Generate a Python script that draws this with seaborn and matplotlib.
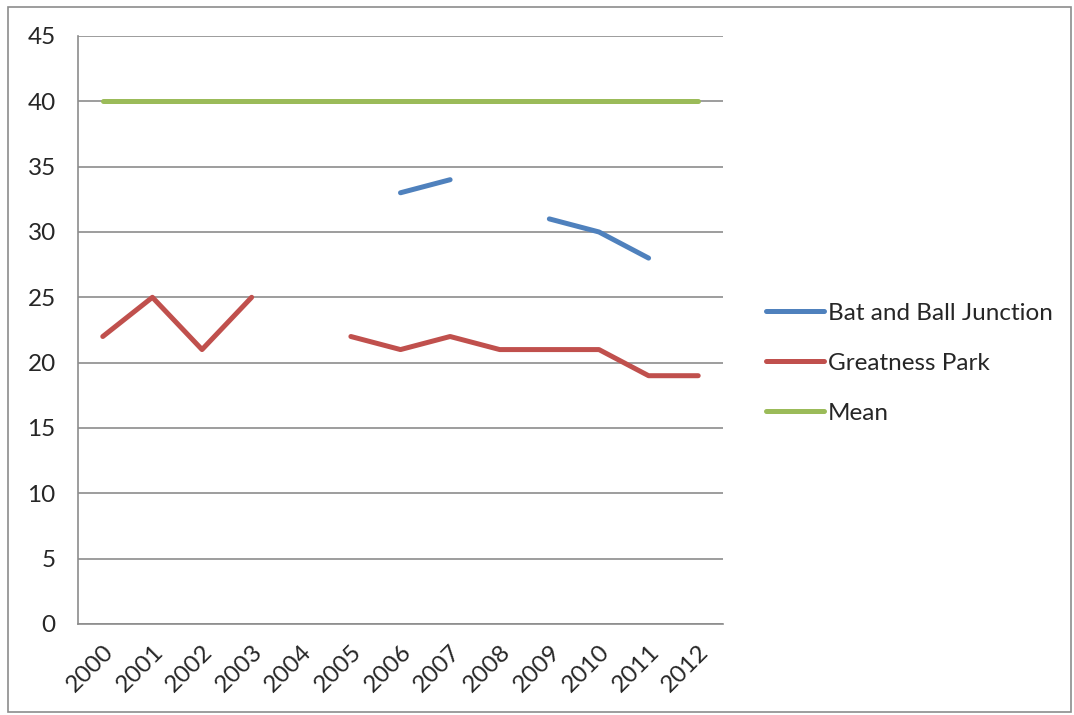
import matplotlib
matplotlib.use("Agg")
import matplotlib.pyplot as plt
import numpy as np
import pandas as pd
import seaborn as sns
from matplotlib.lines import Line2D
from matplotlib.patches import Rectangle

years = [str(y) for y in range(2000, 2013)]
bat_and_ball = [np.nan, np.nan, np.nan, np.nan, np.nan, np.nan, 33, 34, np.nan, 31, 30, 28, np.nan]
greatness_park = [22, 25, 21, 25, np.nan, 22, 21, 22, 21, 21, 21, 19, 19]
mean_values = [40] * 13

series = {
    "Bat and Ball Junction": bat_and_ball,
    "Greatness Park": greatness_park,
    "Mean": mean_values,
}
colors = {"Bat and Ball Junction": "#4F81BD", "Greatness Park": "#C0504D", "Mean": "#9BBB59"}

# long form, with a segment id so gaps stay as gaps
rows = []
for name, vals in series.items():
    seg = 0
    for i, v in enumerate(vals):
        if np.isnan(v):
            seg += 1
            continue
        rows.append({"x": i, "value": v, "series": name, "seg": f"{name}_{seg}"})
df = pd.DataFrame(rows)

sns.set_style("white")
plt.rcParams["font.family"] = ["Lato", "DejaVu Sans"]
FS = 17.5
LW = 3.6

fig = plt.figure(figsize=(10.74, 7.15), dpi=100)
ax = fig.add_axes([0.0726, 0.1273, 0.6006, 0.8224])

sns.lineplot(data=df, x="x", y="value", hue="series", units="seg", estimator=None,
             palette=colors, linewidth=LW, legend=False, ax=ax,
             solid_capstyle="round")

ax.set_xlim(-0.5, 12.5)
ax.set_ylim(0, 45)
ax.set_yticks(range(0, 50, 5))
ax.yaxis.grid(True, color="#8c8c8c", linewidth=1.2)
ax.set_axisbelow(True)
ax.set_xticks(np.arange(-0.5, 13, 1))
ax.set_xticklabels([])
ax.set_xticks(range(13), minor=True)
ax.set_xticklabels(years, minor=True, rotation=45, ha="right", rotation_mode="anchor", fontsize=FS)
ax.tick_params(axis="x", which="major", length=7, width=1.2, color="#8c8c8c", direction="out")
ax.tick_params(axis="x", which="minor", length=0, pad=12)
ax.tick_params(axis="y", length=8, width=1.2, color="#8c8c8c", direction="out", labelsize=FS, pad=8)
ax.set_xlabel("")
ax.set_ylabel("")
for s in ["top", "right"]:
    ax.spines[s].set_visible(False)
for s in ["left", "bottom"]:
    ax.spines[s].set_color("#8c8c8c")
    ax.spines[s].set_linewidth(1.2)

handles = [Line2D([], [], color=colors[n], linewidth=LW, solid_capstyle="round") for n in series]
fig.legend(handles, list(series), loc="center left", bbox_to_anchor=(0.693, 0.492),
           frameon=False, fontsize=FS, handlelength=2.4, handletextpad=0.15, labelspacing=1.2)

fig.patches.append(Rectangle((0.0075, 0.004), 0.99, 0.986, transform=fig.transFigure,
                             fill=False, edgecolor="#8c8c8c", linewidth=1.2))

fig.savefig("out.png", dpi=100)
